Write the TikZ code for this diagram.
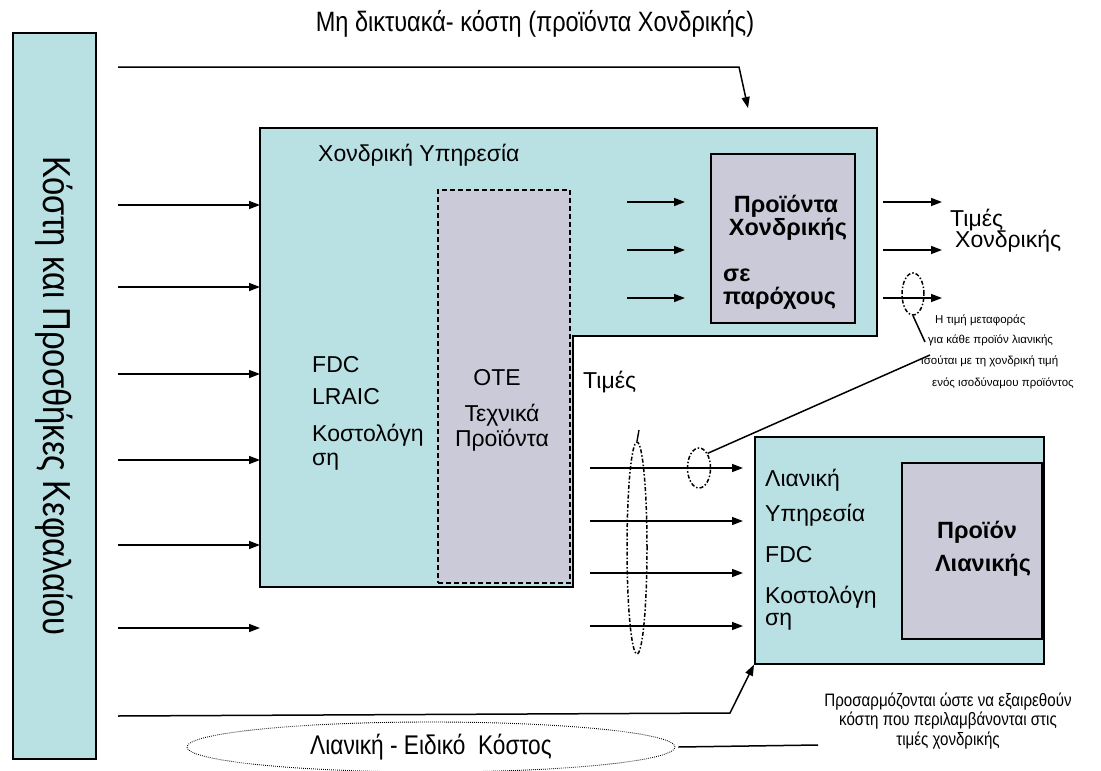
\documentclass[tikz,border=0pt]{standalone}
\usepackage{fontspec}
\setmainfont{Liberation Sans}
\newfontfamily\narrowfont[FakeStretch=0.84]{Liberation Sans}
\usepackage{tikz}
\usetikzlibrary{positioning,arrows.meta,shapes.geometric}
\definecolor{tealfill}{RGB}{185,224,227}
\definecolor{greyfill}{RGB}{203,202,216}

\begin{document}
\begin{tikzpicture}[x=1pt,y=-1pt]
\tikzstyle{blk}=[draw, line width=1.6pt, inner sep=0pt]
\tikzstyle{arr}=[-{Triangle[length=11pt,width=8pt]}, line width=1.5pt]
\tikzstyle{lbl}=[inner sep=0pt, anchor=west, font=\fontsize{23}{26}\selectfont]
\tikzstyle{mid}=[inner sep=0pt, font=\fontsize{23}{26}\selectfont]
\tikzstyle{bld}=[inner sep=0pt, font=\bfseries\fontsize{23.5}{26}\selectfont]
\tikzstyle{note}=[inner sep=0pt, anchor=west, font=\fontsize{11.5}{13}\selectfont]
\tikzstyle{ring}=[draw, ellipse, inner sep=0pt, line width=1.5pt, dash pattern=on 4pt off 2pt on 1.5pt off 2pt]
\useasboundingbox (0,0) rectangle (1101,771);
% capital costs
\node[blk, fill=tealfill, minimum width=83pt, minimum height=726pt, anchor=north west] (cap) at (12,32) {};
\node[rotate=-90, inner sep=0pt, font=\narrowfont\fontsize{39}{42}\selectfont] (caplbl) at (cap.center) {Κόστη και Προσθήκες Κεφαλαίου};
\node[inner sep=0pt, font=\narrowfont\fontsize{28}{30}\selectfont] (nonnet) at (535,24) {Μη δικτυακά- κόστη (προϊόντα Χονδρικής)};
% wholesale service
\draw[blk, fill=tealfill] (260,128) -- (877,128) -- (877,336) -- (573,336) -- (573,587) -- (260,587) -- cycle;
\node[draw, line width=1.6pt, dash pattern=on 5pt off 3pt, fill=greyfill, inner sep=0pt, minimum width=132pt, minimum height=393pt, anchor=north west] (ote) at (437,189) {};
\node[blk, fill=greyfill, minimum width=144pt, minimum height=169pt, anchor=north west] (whprod) at (710,153) {};
\node[lbl] (whname) at (318,155) {Χονδρική Υπηρεσία};
\foreach \t/\y [count=\i] in {FDC/365, LRAIC/397, Κοστολόγη/435, ση/462}{\node[lbl] (wc\i) at (312,\y) {\t};}
\node[mid] (ote1) at (497,378) {OTE};
\node[mid] (ote2) at (502,415) {Τεχνικά};
\node[mid] (ote3) at (502,440) {Προϊόντα};
\node[bld] (wp1) at (786,206) {Προϊόντα};
\node[bld] (wp2) at (788,229) {Χονδρικής};
\node[bld, anchor=west] (wp3) at (723,275) {σε};
\node[bld, anchor=west] (wp4) at (723,298) {παρόχους};
% retail service
\node[blk, fill=tealfill, minimum width=289pt, minimum height=227pt, anchor=north west] (ret) at (754,436) {};
\node[blk, fill=greyfill, minimum width=140pt, minimum height=176pt, anchor=north east] (retprod) at (1043,462) {};
\foreach \t/\y [count=\i] in {Λιανική/480, Υπηρεσία/515, FDC/555, Κοστολόγη/597, ση/622}{\node[lbl] (rc\i) at (765,\y) {\t};}
\node[bld] (rp1) at (977,532) {Προϊόν};
\node[bld] (rp2) at (983,565) {Λιανικής};
% prices
\node[lbl] (prc) at (583,382) {Τιμές};
\node[lbl] (wpr1) at (950,220) {Τιμές};
\node[lbl] (wpr2) at (955,241) {Χονδρικής};
% arrows
\foreach \y [count=\i] in {205,287,374,460,545,628}{
  \coordinate (src\i) at (118,\y); \coordinate (dst\i) at (260,\y);
  \draw[arr] (src\i) -- (dst\i);}
\foreach \y [count=\i] in {202,250,298}{
  \coordinate (pi\i) at (627,\y); \coordinate (pt\i) at (685,\y);
  \coordinate (po\i) at (883,\y); \coordinate (pe\i) at (942,\y);
  \draw[arr] (pi\i) -- (pt\i); \draw[arr] (po\i) -- (pe\i);}
\foreach \y [count=\i] in {468,521,573,626}{
  \coordinate (ms\i) at (590,\y); \coordinate (me\i) at (743,\y);
  \draw[arr] (ms\i) -- (me\i);}
\coordinate (top0) at (118,67); \coordinate (top1) at (739,67); \coordinate (top2) at (748,108);
\draw[arr] (top0) -- (top1) -- (top2);
\coordinate (bot0) at (118,716); \coordinate (bot1) at (730,713);
\draw[arr] (bot0) -- (bot1) -- (ret.south west);
% transfer price note
\node[ring, minimum width=22pt, minimum height=42pt] (wel) at (913,294) {};
\node[ring, minimum width=23pt, minimum height=40pt] (sel) at (699,468) {};
\node[ring, minimum width=20pt, minimum height=212pt] (grp) at (637,548) {};
\coordinate (wt) at (925,342); \coordinate (nt) at (930,355); \coordinate (tick) at (639,430);
\draw[line width=1.5pt] (wel.south) -- (wt);
\draw[line width=1.5pt] (sel.north east) -- (nt);
\draw[line width=1.4pt] (grp.north) -- (tick);
\node[note] (n1) at (935,320) {Η τιμή μεταφοράς};
\node[note] (n2) at (928,340) {για κάθε προϊόν λιανικής};
\node[note] (n3) at (921,361) {ισούται με τη χονδρική τιμή};
\node[note] (n4) at (932,383) {ενός ισοδύναμου προϊόντος};
% retail specific cost
\node[draw, ellipse, line width=0.9pt, dash pattern=on 0.8pt off 1.2pt, minimum width=488pt, minimum height=50pt, inner sep=0pt, font=\narrowfont\fontsize{27}{30}\selectfont] (spec) at (431,747) {Λιανική - Ειδικό\ \ Κόστος};
\coordinate (adj) at (818,745);
\draw[line width=1.5pt] ([xshift=3pt]spec.east) -- (adj);
\node[inner sep=0pt, align=center, font=\narrowfont\fontsize{18}{19.5}\selectfont] (adjtxt) at (948,721) {Προσαρμόζονται ώστε να εξαιρεθούν\\κόστη που περιλαμβάνονται στις\\τιμές χονδρικής};
\end{tikzpicture}
\end{document}
